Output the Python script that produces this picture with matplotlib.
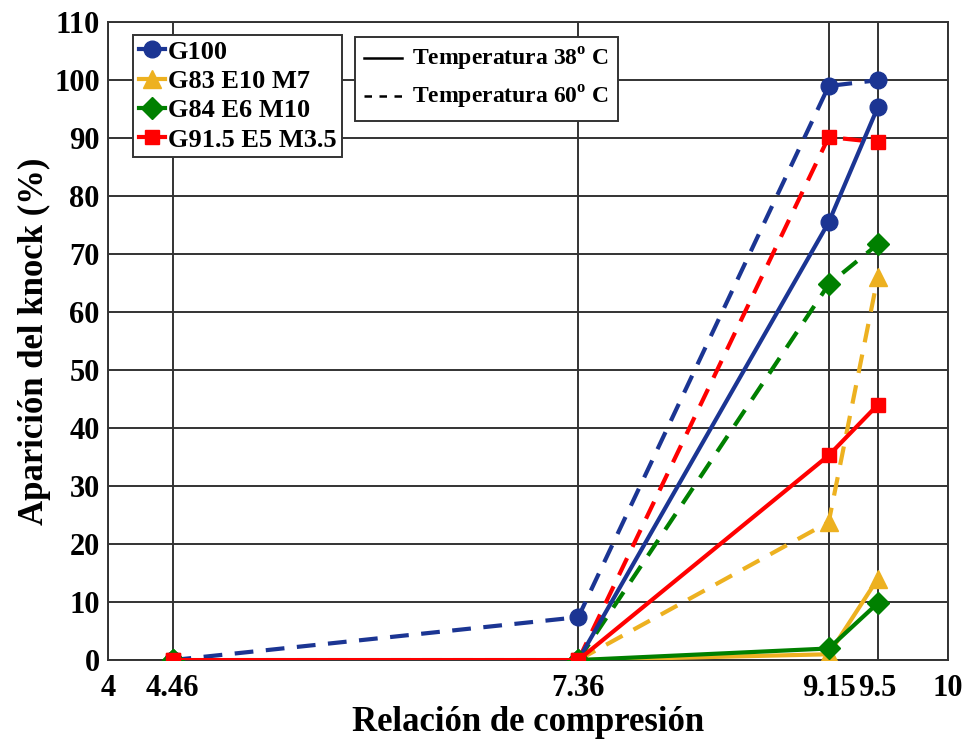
import matplotlib
matplotlib.use("Agg")
import matplotlib.pyplot as plt
from matplotlib.lines import Line2D

plt.rcParams["font.family"] = ["Liberation Serif", "DejaVu Serif"]
plt.rcParams["font.weight"] = "bold"
plt.rcParams["mathtext.fontset"] = "custom"
plt.rcParams["mathtext.rm"] = "Liberation Serif:bold"
plt.rcParams["mathtext.bf"] = "Liberation Serif:bold"

# relación de compresión
x = [4.46, 7.36, 9.15, 9.5]
x_ticks = [4, 4.46, 7.36, 9.15, 9.5, 10]
x_ticklabels = ["4", "4.46", "7.36", "9.15", "9.5", "10"]

fuels = ["G100", "G83 E10 M7", "G84 E6 M10", "G91.5 E5 M3.5"]
colors = ["#1b3593", "#edb120", "#008000", "#ff0000"]
markers = ["o", "^", "D", "s"]

# aparición del knock (%) a 38 °C
knock_38 = [
    [0, 0, 75.5, 95.3],
    [0, 0, 1.0, 14.0],
    [0, 0, 2.0, 9.8],
    [0, 0, 35.3, 44.0],
]
# aparición del knock (%) a 60 °C
knock_60 = [
    [0, 7.4, 99.0, 100.0],
    [0, 0, 23.8, 66.0],
    [0, 0, 64.8, 71.7],
    [0, 0, 90.2, 89.3],
]

fig = plt.figure(figsize=(9.66, 7.4), dpi=100)
ax = fig.add_axes([0.112, 0.108, 0.869, 0.862])

msize = {"o": 12, "^": 13, "D": 11, "s": 9.5}
lw = 3
for k in range(len(fuels)):
    ax.plot(x, knock_60[k], "--", color=colors[k], marker=markers[k],
            markersize=msize[markers[k]], linewidth=lw, dashes=(4.5, 3), zorder=3)
for k in range(len(fuels)):
    ax.plot(x, knock_38[k], "-", color=colors[k], marker=markers[k],
            markersize=msize[markers[k]], linewidth=lw, zorder=4)

ax.set_xlim(4, 10)
ax.set_ylim(0, 110)
ax.set_xticks(x_ticks)
ax.set_xticklabels(x_ticklabels)
ax.set_yticks(range(0, 111, 10))
ax.grid(True, color="#333333", linewidth=1.4)
ax.set_axisbelow(True)
ax.tick_params(axis="x", labelsize=22, length=0, pad=10)
ax.tick_params(axis="y", labelsize=22, length=0, pad=6)
for s in ax.spines.values():
    s.set_color("#333333")
    s.set_linewidth(1.4)

ax.set_xlabel("Relación de compresión", fontsize=25, fontweight="bold", labelpad=2)
ax.set_ylabel("Aparición del knock (%)", fontsize=25, fontweight="bold", labelpad=2)

fuel_handles = [Line2D([0], [0], color=colors[k], marker=markers[k],
                       markersize=msize[markers[k]], linewidth=lw)
                for k in range(len(fuels))]
leg1 = ax.legend(fuel_handles, fuels, loc="upper left", bbox_to_anchor=(0.03, 0.98),
                 fontsize=19, handlelength=1.0, handletextpad=0.1, borderpad=0.2,
                 labelspacing=0.22, borderaxespad=0, fancybox=False, framealpha=1,
                 edgecolor="#333333")
leg1.get_frame().set_linewidth(1.4)
ax.add_artist(leg1)

temp_handles = [Line2D([0], [0], color="black", linewidth=1.8),
                Line2D([0], [0], color="black", linewidth=1.8, linestyle="--", dashes=(3, 3))]
temp_labels = [r"Temperatura 38$^{\mathbf{o}}$ C", r"Temperatura 60$^{\mathbf{o}}$ C"]
leg2 = ax.legend(temp_handles, temp_labels, loc="upper left", bbox_to_anchor=(0.294, 0.977),
                 fontsize=17, handlelength=1.6, handletextpad=0.4, borderpad=0.4,
                 labelspacing=0.45, borderaxespad=0, fancybox=False, framealpha=1,
                 edgecolor="#333333")
leg2.get_frame().set_linewidth(1.4)

fig.savefig("out.png", dpi=100)
